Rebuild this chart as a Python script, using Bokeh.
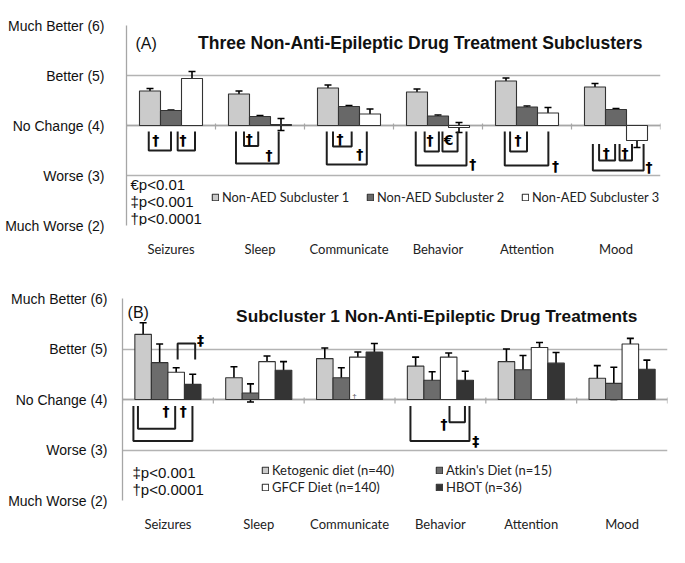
from bokeh.plotting import figure
from bokeh.models import (Range1d, FixedTicker, Span, Label, Legend, LegendItem,
                          Whisker, TeeHead, ColumnDataSource)
from bokeh.embed import file_html
from bokeh.resources import INLINE

# ---------------- data ----------------
categories = ["Seizures", "Sleep", "Communicate", "Behavior", "Attention", "Mood"]
y_ticks = [2, 3, 4, 5, 6]
y_tick_labels = ["Much Worse (2)", "Worse (3)", "No Change (4)", "Better (5)", "Much Better (6)"]

a_title = "Three Non-Anti-Epileptic Drug Treatment Subclusters"
a_series = ["Non-AED Subcluster 1", "Non-AED Subcluster 2", "Non-AED Subcluster 3"]
a_sub1 = [4.69, 4.63, 4.75, 4.67, 4.89, 4.77]
a_sub1_err = [0.05, 0.06, 0.06, 0.06, 0.06, 0.07]
a_sub2 = [4.30, 4.18, 4.38, 4.19, 4.37, 4.32]
a_sub2_err = [0.01, 0.02, 0.02, 0.02, 0.02, 0.02]
a_sub3 = [4.94, 4.02, 4.23, 3.96, 4.25, 3.70]
a_sub3_err = [0.14, 0.12, 0.10, 0.10, 0.11, 0.14]
a_sig_notes = ["\u20acp<0.01", "\u2021p<0.001", "\u2020p<0.0001"]

b_title = "Subcluster 1 Non-Anti-Epileptic Drug Treatments"
b_series = ["Ketogenic diet (n=40)", "Atkin's Diet (n=15)", "GFCF Diet (n=140)", "HBOT (n=36)"]
b_keto = [5.29, 4.43, 4.81, 4.66, 4.75, 4.42]
b_keto_err = [0.23, 0.22, 0.21, 0.18, 0.25, 0.25]
b_atkins = [4.73, 4.13, 4.43, 4.38, 4.59, 4.32]
b_atkins_err = [0.37, 0.18, 0.20, 0.17, 0.28, 0.32]
b_gfcf = [4.54, 4.75, 4.84, 4.84, 5.03, 5.10]
b_gfcf_err = [0.09, 0.11, 0.10, 0.08, 0.10, 0.11]
b_hbot = [4.30, 4.58, 4.94, 4.38, 4.72, 4.60]
b_hbot_err = [0.20, 0.17, 0.17, 0.18, 0.21, 0.18]
b_sig_notes = ["\u2021p<0.001", "\u2020p<0.0001"]

# significance brackets: (category, x-from, x-to (offset in category), end y, bar y, mark, mark x offset, mark y)
a_brackets = [
    ("Seizures", -0.25, 0.00, 3.88, 3.50, "\u2020", -0.17, 3.71),
    ("Seizures", 0.075, 0.27, 3.88, 3.50, "\u2020", 0.135, 3.71),
    ("Sleep", -0.18, -0.02, 3.88, 3.59, "\u2020", -0.12, 3.73),
    ("Sleep", -0.27, 0.21, 3.88, 3.24, "\u2020", 0.10, 3.41),
    ("Communicate", -0.18, 0.03, 3.88, 3.58, "\u2020", -0.10, 3.73),
    ("Communicate", -0.25, 0.20, 3.88, 3.22, "\u2020", 0.12, 3.44),
    ("Behavior", -0.15, 0.01, 3.88, 3.48, "\u2020", -0.09, 3.72),
    ("Behavior", 0.05, 0.22, 3.88, 3.48, "\u20ac", 0.12, 3.72),
    ("Behavior", -0.25, 0.32, 3.88, 3.20, "\u2020", 0.39, 3.24),
    ("Attention", -0.19, 0.00, 3.88, 3.48, "\u2020", -0.10, 3.72),
    ("Attention", -0.25, 0.24, 3.88, 3.20, "\u2020", 0.32, 3.20),
    ("Mood", -0.19, -0.01, 3.63, 3.30, "\u2020", -0.11, 3.46),
    ("Mood", 0.04, 0.18, 3.63, 3.30, "\u2020", 0.10, 3.46),
    ("Mood", -0.26, 0.31, 3.63, 3.10, "\u2020", 0.37, 3.18),
]
b_brackets = [
    ("Seizures", -0.33, 0.08, 3.87, 3.42, "\u2020", -0.02, 3.77),
    ("Seizures", -0.38, 0.27, 3.87, 3.18, "\u2020", 0.17, 3.77),
    ("Seizures", 0.107, 0.30, 4.79, 5.11, "\u2021", 0.36, 5.17),
    ("Behavior", -0.33, 0.32, 3.87, 3.18, "\u2021", 0.39, 3.17),
    ("Behavior", 0.10, 0.27, 3.87, 3.55, "\u2020", 0.04, 3.52),
]
b_small_marks = [("Communicate", 0.055, 4.05, "\u2020")]

# ---------------- style ----------------
ARIAL = "Liberation Sans"
CAL = "Lato"
GRID = "#b3b3b3"
OUTLINE = "#333333"
FIG_W = 680


def make_panel(height, b_left, b_right, b_top, b_bottom, standoff):
    p = figure(width=FIG_W, height=height, x_range=Range1d(0.5, 6.5), y_range=Range1d(2, 6),
               output_backend="svg", toolbar_location=None,
               min_border_left=b_left, min_border_right=b_right,
               min_border_top=b_top, min_border_bottom=b_bottom)
    p.outline_line_color = None
    p.background_fill_color = "white"
    p.border_fill_color = "white"
    yax = p.yaxis[0]
    yax.ticker = FixedTicker(ticks=y_ticks)
    yax.major_label_overrides = {t: lab for t, lab in zip(y_ticks, y_tick_labels)}
    yax.major_tick_line_color = None
    yax.minor_tick_line_color = None
    yax.axis_line_color = "#a6a6a6"
    yax.axis_line_width = 1.3
    yax.major_label_text_font = ARIAL
    yax.major_label_text_font_size = "14px"
    yax.major_label_text_color = "#111111"
    yax.major_label_standoff = standoff
    xax = p.xaxis[0]
    xpos = [i + 1 for i in range(len(categories))]
    xax.ticker = FixedTicker(ticks=xpos)
    xax.major_label_overrides = {x: c for x, c in zip(xpos, categories)}
    xax.axis_line_color = None
    xax.major_tick_line_color = None
    xax.minor_tick_line_color = None
    xax.major_label_text_font = CAL
    xax.major_label_text_font_size = "13px"
    xax.major_label_text_color = "#222222"
    xax.major_label_standoff = 9
    p.xgrid.grid_line_color = None
    p.ygrid.ticker = FixedTicker(ticks=y_ticks)
    p.ygrid.grid_line_color = GRID
    p.ygrid.grid_line_width = 1.3
    # category axis at "No Change"
    p.add_layout(Span(location=4, dimension="width", line_color="#a6a6a6", line_width=1.4,
                      level="underlay"))
    bounds = [i + 0.5 for i in range(len(categories) + 1)]
    p.segment(x0=bounds, y0=[4.04] * len(bounds), x1=bounds, y1=[3.92] * len(bounds),
              line_color="#a6a6a6", line_width=1.2)
    return p


def add_bars(p, series, vals, errs, colors, offsets, width):
    renderers = []
    for name, v, e, col, off in zip(series, vals, errs, colors, offsets):
        xs = [i + 1 + off for i in range(len(categories))]
        r = p.vbar(x=xs, width=width, bottom=4, top=v, fill_color=col,
                   line_color=OUTLINE, line_width=1.1)
        src = ColumnDataSource(dict(base=xs, lower=[a - b for a, b in zip(v, e)],
                                    upper=[a + b for a, b in zip(v, e)]))
        w = Whisker(source=src, base="base", lower="lower", upper="upper",
                    dimension="height", line_color="black", line_width=1.6,
                    upper_head=TeeHead(size=7, line_color="black", line_width=1.6),
                    lower_head=TeeHead(size=7, line_color="black", line_width=1.6))
        p.add_layout(w)
        renderers.append(r)
    return renderers


def add_brackets(p, brackets, mark_size="14px"):
    xs, ys = [], []
    for cat, x0, x1, yend, ybar, mark, moff, ymark in brackets:
        c = categories.index(cat) + 1
        xs.append([c + x0, c + x0, c + x1, c + x1])
        ys.append([yend, ybar, ybar, yend])
        p.add_layout(Label(x=c + moff, y=ymark, text=mark, text_font="DejaVu Sans",
                           text_font_size=mark_size, text_font_style="bold",
                           text_align="center", text_baseline="middle",
                           text_color="#000000"))
    p.multi_line(xs=xs, ys=ys, line_color="#1e1e1e", line_width=2)


def legend_for(items, loc, font_size):
    return Legend(items=items, location=loc, orientation="vertical", glyph_width=8,
                  glyph_height=8, label_standoff=3, label_text_font=CAL,
                  label_text_font_size=font_size, label_text_color="#222222",
                  label_height=14, spacing=1, padding=0, margin=0,
                  border_line_color=None, background_fill_alpha=0)


# ---------------- panel A ----------------
pa = make_panel(278, 126, FIG_W - 660, 25, 53, 16)
ra = add_bars(pa, a_series, [a_sub1, a_sub2, a_sub3], [a_sub1_err, a_sub2_err, a_sub3_err],
              ["#cbcbcb", "#686868", "#ffffff"], [-0.236, 0.0, 0.236], 0.236)
add_brackets(pa, a_brackets)
pa.add_layout(Label(x=0.60, y=5.65, text="(A)", text_font=ARIAL, text_font_size="16px",
                    text_baseline="middle", text_color="#111111"))
pa.add_layout(Label(x=3.80, y=5.65, text=a_title, text_font=ARIAL, text_font_size="17.5px",
                    text_font_style="bold", text_align="center", text_baseline="middle",
                    text_color="#111111"))
for txt, yy in zip(a_sig_notes, [2.83, 2.49, 2.15]):
    pa.add_layout(Label(x=0.545, y=yy, text=txt, text_font=ARIAL, text_font_size="15px",
                        text_baseline="middle", text_color="#111111"))
for name, r, xloc in zip(a_series, ra, [85, 240, 395]):
    pa.add_layout(legend_for([LegendItem(label=name, renderers=[r])], (xloc, 20), "12.8px"))

# ---------------- panel B ----------------
pb = make_panel(272, 122, FIG_W - 667, 20, 50, 9)
rb = add_bars(pb, b_series, [b_keto, b_atkins, b_gfcf, b_hbot],
              [b_keto_err, b_atkins_err, b_gfcf_err, b_hbot_err],
              ["#cbcbcb", "#6c6c6c", "#ffffff", "#343434"],
              [-0.273, -0.091, 0.091, 0.273], 0.182)
add_brackets(pb, b_brackets)
for cat, off, yy, mark in b_small_marks:
    c = categories.index(cat) + 1
    pb.add_layout(Label(x=c + off, y=yy, text=mark, text_font=ARIAL, text_font_size="8px",
                        text_align="center", text_baseline="middle", text_color="#555555"))
pb.add_layout(Label(x=0.556, y=5.72, text="(B)", text_font=ARIAL, text_font_size="16px",
                    text_baseline="middle", text_color="#111111"))
pb.add_layout(Label(x=3.96, y=5.65, text=b_title, text_font=ARIAL, text_font_size="17.3px",
                    text_font_style="bold", text_align="center", text_baseline="middle",
                    text_color="#111111"))
for txt, yy in zip(b_sig_notes, [2.55, 2.22]):
    pb.add_layout(Label(x=0.61, y=yy, text=txt, text_font=ARIAL, text_font_size="15px",
                        text_baseline="middle", text_color="#111111"))
# two legend columns: (Ketogenic, GFCF) and (Atkin's, HBOT)
for col_idx, xloc in zip([(0, 2), (1, 3)], [139, 313]):
    items = [LegendItem(label=b_series[k], renderers=[rb[k]]) for k in col_idx]
    pb.add_layout(legend_for(items, (xloc, 5), "13px"))

open("out.html", "w").write(file_html([pa, pb], INLINE))
